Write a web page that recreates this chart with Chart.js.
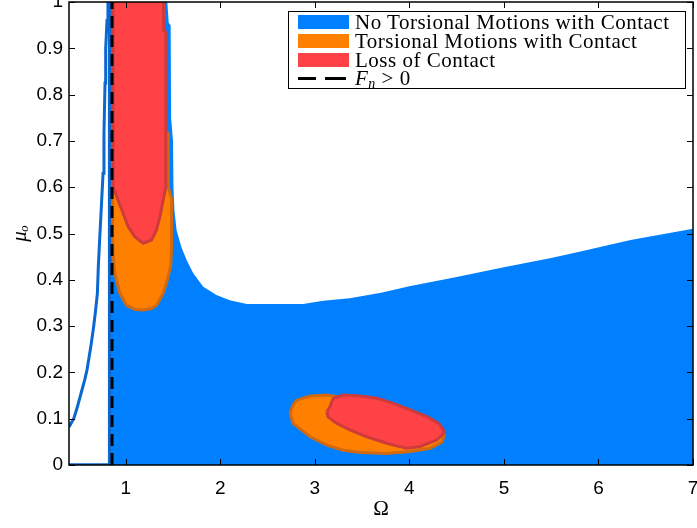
<!DOCTYPE html>
<html>
<head>
<meta charset="utf-8">
<script src="https://cdn.jsdelivr.net/npm/chart.js@4/dist/chart.umd.min.js"></script>
<style>
  html, body { margin: 0; padding: 0; background: #fff; }
  #wrap { position: relative; width: 697px; height: 528px; }
  #legend {
    position: absolute; left: 288px; top: 11px; width: 398px; height: 78px;
    box-sizing: border-box; border: 1.5px solid #000; background: #fff;
    font-family: "Liberation Serif", "Times New Roman", serif; font-size: 21px;
    letter-spacing: 0.5px; color: #000; padding-top: 1px;
  }
  .row { display: flex; align-items: center; height: 18.8px; white-space: nowrap; }
  .sw { width: 51px; height: 14px; margin-left: 9px; margin-right: 6px; flex: none; }
  .dash { width: 51px; height: 3px; margin-left: 9px; margin-right: 6px; flex: none;
          background: linear-gradient(90deg, #000 0 18px, transparent 18px 27px, #000 27px 48px, transparent 48px); }
  .row sub { font-size: 14px; vertical-align: -3px; line-height: 0; }
</style>
</head>
<body>
<div id="wrap">
  <canvas id="c" width="697" height="528"></canvas>
  <div id="legend"></div>
</div>
<script>
// Axis ticks
const xTicks = [1, 2, 3, 4, 5, 6, 7];
const yTicks = [0, 0.1, 0.2, 0.3, 0.4, 0.5, 0.6, 0.7, 0.8, 0.9, 1];

const seriesNames = ['No Torsional Motions with Contact', 'Torsional Motions with Contact', 'Loss of Contact'];

// Upper edge of the contact region without torsional motion (filled down to mu_o = 0)
const contactOmega = [0.845, 1.44, 1.455, 1.475, 1.48, 1.50, 1.505, 1.515, 1.538, 1.59, 1.644, 1.714, 1.82, 1.96, 2.10, 2.28, 2.876, 3.09, 3.37, 3.7, 4.0, 4.5, 5.0, 5.5, 5.81, 6.34, 7.0];
const contactMu    = [1.0,   1.0,  0.955, 0.95, 0.75, 0.70, 0.60,  0.55,  0.507, 0.47, 0.443, 0.414, 0.385, 0.367, 0.356, 0.348, 0.348, 0.355, 0.36, 0.372, 0.386, 0.406, 0.427, 0.447, 0.461, 0.486, 0.51];

// Contour of the contact region below resonance
const edgeOmega = [0.4, 0.45, 0.485, 0.513, 0.537, 0.566, 0.59, 0.611, 0.636, 0.66, 0.678, 0.70, 0.71, 0.724, 0.742, 0.76, 0.77, 0.781, 0.788, 0.802, 0.812];
const edgeMu    = [0.082, 0.10, 0.123, 0.144, 0.162, 0.184, 0.205, 0.231, 0.263, 0.298, 0.328, 0.37, 0.428, 0.486, 0.557, 0.63, 0.717, 0.825, 0.9, 0.96, 1.02];
const floorOmega = [0.4, 0.83, 0.83];
const floorMu    = [0, 0, 1.02];

// Torsional motions with contact, island near Omega = 1.2
const torsionAOmega = [0.862, 0.862, 0.866, 0.884, 0.937, 1.008, 1.10, 1.184, 1.27, 1.326, 1.396, 1.44, 1.475, 1.485, 1.485, 1.449, 1.449];
const torsionAMu    = [0.67,  0.50,  0.457, 0.414, 0.371, 0.345, 0.336, 0.335, 0.338, 0.345, 0.371, 0.40, 0.43, 0.47, 0.575, 0.60, 0.72];

// Torsional motions with contact, island near Omega = 3.5
const torsionBOmega = [2.738, 2.77, 2.81, 2.95, 3.127, 3.3, 3.6, 3.9, 4.2, 4.33, 4.37, 4.345, 4.22, 4.01, 3.76, 3.48, 3.30, 3.127, 2.95, 2.77, 2.738];
const torsionBMu    = [0.112, 0.13, 0.14, 0.149, 0.151, 0.145, 0.135, 0.115, 0.09, 0.075, 0.065, 0.05, 0.036, 0.029, 0.025, 0.027, 0.032, 0.043, 0.061, 0.09, 0.112];

// Loss of contact, region near Omega = 1.2
const lossAOmega = [0.866, 0.866, 0.919, 0.972, 1.025, 1.096, 1.184, 1.273, 1.326, 1.361, 1.396, 1.424, 1.424, 1.40, 1.40];
const lossAMu    = [1.02,  0.601, 0.572, 0.544, 0.515, 0.493, 0.479, 0.486, 0.508, 0.536, 0.572, 0.60, 0.935, 0.94, 1.02];

// Loss of contact, region near Omega = 3.7
const lossBOmega = [3.127, 3.16, 3.18, 3.197, 3.30, 3.48, 3.656, 3.83, 4.01, 4.19, 4.31, 4.36, 4.36, 4.29, 4.115, 3.97, 3.76, 3.55, 3.37, 3.23, 3.14, 3.127];
const lossBMu    = [0.115, 0.126, 0.137, 0.144, 0.151, 0.149, 0.144, 0.133, 0.119, 0.104, 0.09, 0.076, 0.068, 0.054, 0.04, 0.036, 0.047, 0.061, 0.076, 0.09, 0.104, 0.115];

// F_n > 0 boundary
const fnOmega = [0.855, 0.855];
const fnMu    = [0, 1];

const colors = {
  blue: '#0080ff', blueEdge: '#0a68d0',
  orange: '#ff8000', orangeEdge: '#d2690f',
  red: '#ff4246', redEdge: '#cf3a3a'
};

const pts = (xs, ys) => xs.map((x, i) => ({ x, y: ys[i] }));

const base = { pointRadius: 0, pointHoverRadius: 0, tension: 0 };

const datasets = [
  Object.assign({}, base, { label: seriesNames[0], data: pts(contactOmega, contactMu),
    backgroundColor: colors.blue, borderColor: 'rgba(0,0,0,0)', borderWidth: 0, fill: 'origin', order: 10, clip: 0 }),
  Object.assign({}, base, { label: seriesNames[1], data: pts(torsionAOmega, torsionAMu),
    backgroundColor: colors.orange, borderColor: colors.orangeEdge, borderWidth: 3, fill: 'shape', order: 8, clip: 0 }),
  Object.assign({}, base, { label: seriesNames[2], data: pts(lossAOmega, lossAMu),
    backgroundColor: colors.red, borderColor: colors.redEdge, borderWidth: 3, fill: 'shape', order: 6, clip: 0 }),
  Object.assign({}, base, { label: 'F_n > 0', data: pts(fnOmega, fnMu),
    borderColor: '#000', borderWidth: 3, borderDash: [12, 7], fill: false, order: 0 }),
  Object.assign({}, base, { label: 'edge', data: pts(edgeOmega, edgeMu),
    borderColor: colors.blueEdge, borderWidth: 3, fill: false, order: 9, clip: 0 }),
  Object.assign({}, base, { label: 'floor', data: pts(floorOmega, floorMu),
    borderColor: colors.blueEdge, borderWidth: 3.5, fill: false, order: 9, clip: 0 }),
  Object.assign({}, base, { label: 'torsionB', data: pts(torsionBOmega, torsionBMu),
    backgroundColor: colors.orange, borderColor: colors.orangeEdge, borderWidth: 3, fill: 'shape', order: 8, clip: 0 }),
  Object.assign({}, base, { label: 'lossB', data: pts(lossBOmega, lossBMu),
    backgroundColor: colors.red, borderColor: colors.redEdge, borderWidth: 3, fill: 'shape', order: 6, clip: 0 })
];

// Box frame with inward ticks on all four sides
const framePlugin = {
  id: 'frame',
  afterDatasetsDraw(chart) {
    const { ctx, chartArea: a, scales: { x, y } } = chart;
    ctx.save();
    ctx.strokeStyle = '#000';
    ctx.lineWidth = 1;
    ctx.beginPath();
    for (const v of xTicks) {
      const px = Math.round(x.getPixelForValue(v)) + 0.5;
      ctx.moveTo(px, a.bottom); ctx.lineTo(px, a.bottom - 6);
      ctx.moveTo(px, a.top); ctx.lineTo(px, a.top + 6);
    }
    for (const v of yTicks) {
      const py = Math.round(y.getPixelForValue(v)) + 0.5;
      ctx.moveTo(a.left, py); ctx.lineTo(a.left + 6, py);
      ctx.moveTo(a.right, py); ctx.lineTo(a.right - 6, py);
    }
    ctx.stroke();
    ctx.lineWidth = 1.5;
    ctx.strokeRect(a.left, a.top, a.right - a.left, a.bottom - a.top);
    ctx.restore();
  }
};

new Chart(document.getElementById('c'), {
  type: 'line',
  data: { datasets },
  options: {
    responsive: false,
    animation: false,
    devicePixelRatio: 1,
    layout: { padding: { top: 2, right: 4, left: 0, bottom: 0 } },
    plugins: { legend: { display: false }, tooltip: { enabled: false } },
    events: [],
    scales: {
      x: {
        type: 'linear', min: 0.4, max: 7,
        afterBuildTicks: s => { s.ticks = xTicks.map(v => ({ value: v })); },
        afterFit: s => { s.height = 63; s.paddingLeft = 0; s.paddingRight = 0; },
        grid: { display: false, drawTicks: false },
        border: { display: false },
        ticks: { padding: 12, color: '#000', font: { family: 'Liberation Sans', size: 19 }, callback: v => String(v) },
        title: { display: true, text: 'Ω', color: '#000', font: { family: 'Liberation Serif', size: 21 }, padding: { top: 0, bottom: 6 } }
      },
      y: {
        type: 'linear', min: 0, max: 1,
        afterBuildTicks: s => { s.ticks = yTicks.map(v => ({ value: v })); },
        afterFit: s => { s.width = 69; s.paddingTop = 0; s.paddingBottom = 0; },
        grid: { display: false, drawTicks: false },
        border: { display: false },
        ticks: { padding: 6, color: '#000', font: { family: 'Liberation Sans', size: 19 }, callback: v => String(v) },
        title: { display: true, text: 'μₒ', color: '#000', font: { family: 'Liberation Serif', size: 21, style: 'italic' }, padding: { top: 8, bottom: 0 } }
      }
    }
  },
  plugins: [framePlugin]
});

// Legend
const legend = document.getElementById('legend');
const swatches = [colors.blue, colors.orange, colors.red];
seriesNames.forEach((name, i) => {
  const row = document.createElement('div');
  row.className = 'row';
  const sw = document.createElement('span');
  sw.className = 'sw';
  sw.style.background = swatches[i];
  const t = document.createElement('span');
  t.textContent = name;
  row.appendChild(sw); row.appendChild(t);
  legend.appendChild(row);
});
const fnRow = document.createElement('div');
fnRow.className = 'row';
fnRow.innerHTML = '<span class="dash"></span><span><i>F</i><sub><i>n</i></sub> &gt; 0</span>';
legend.appendChild(fnRow);
</script>
</body>
</html>
